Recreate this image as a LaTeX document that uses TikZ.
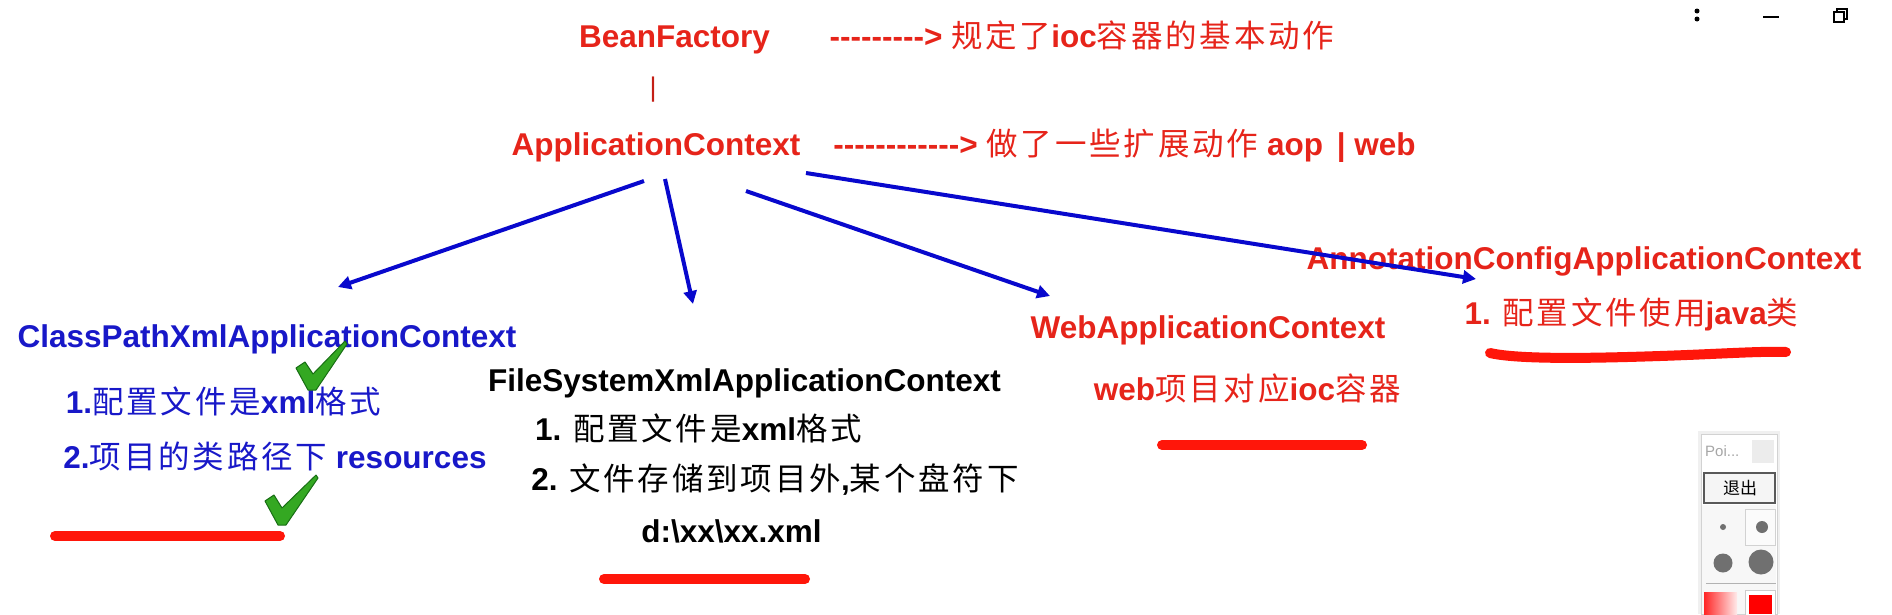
\documentclass[tikz,border=0pt]{standalone}
\usepackage{fontspec}
\setmainfont{Liberation Sans}
\newfontfamily\cjk{Noto Sans CJK SC}[LetterSpace=9]
\newfontfamily\cjkplain{Noto Sans CJK SC}
\usetikzlibrary{arrows.meta}
\definecolor{tred}{RGB}{230,36,26}
\definecolor{tblue}{RGB}{24,24,200}
\definecolor{ablue}{RGB}{8,8,205}
\definecolor{ulred}{RGB}{255,22,10}
\definecolor{chkg}{RGB}{52,168,34}
\definecolor{chkd}{RGB}{24,110,20}
\definecolor{dotg}{RGB}{112,112,112}
\newcommand\zh[1]{{\cjk\mdseries #1}}
\newcommand\hy{\mbox{-}}
\newcommand\dashesN[1]{\foreach \i in {1,...,#1}{\hy}}
\begin{document}
\begin{tikzpicture}[x=1pt,y=-1pt,
  lbl/.style={font=\fontsize{31.5}{36}\selectfont\bfseries, inner sep=0pt, anchor=base},
  redt/.style={lbl, text=tred},
  bluet/.style={lbl, text=tblue},
  blackt/.style={lbl, text=black},
  arr/.style={draw=ablue, line width=4pt, -{Triangle[length=13pt,width=13pt]}},
  uline/.style={draw=ulred, line width=10pt, line cap=round},
  checkm/.style={fill=chkg, draw=chkd, line width=1pt, line join=round},
  dotc/.style={fill=dotg, draw=none}]
\useasboundingbox (0,0) rectangle (1892,614);

% top
\node[redt] (bf) at (674.5,47) {BeanFactory};
\node[redt] (bfnote) at (1082,47) {\dashesN{9}> \zh{规定了}ioc\zh{容器的基本动作}};
\node[lbl, font=\fontsize{27}{29}\selectfont, text=tred!85!black] (bar) at (653,96) {|};
\node[redt] (ac) at (656,155) {ApplicationContext};
\node[redt] (acnote) at (1124.5,155) {\dashesN{12}> \zh{做了一些扩展动作} aop\hspace{5pt} | web};

% ClassPath
\node[bluet] (cp) at (267,347) {ClassPathXmlApplicationContext};
\node[bluet] (cp1) at (223.5,413) {1.\zh{配置文件是}xml\zh{格式}};
\node[bluet] (cp2) at (275,468) {2.\zh{项目的类路径下} resources};

% FileSystem
\node[blackt] (fs) at (744.5,391) {FileSystemXmlApplicationContext};
\node[blackt] (fs1) at (698.5,440) {1. \zh{配置文件是}xml\zh{格式}};
\node[blackt] (fs2) at (775,490) {2. \zh{文件存储到项目外},\zh{某个盘符下}};
\node[blackt] (fs3) at (731.5,542) {d:\textbackslash xx\textbackslash xx.xml};

% Web
\node[redt] (web) at (1208,338) {WebApplicationContext};
\node[redt] (web1) at (1247.5,400) {web\zh{项目对应}ioc\zh{容器}};

% Annotation
\node[redt] (ann) at (1584,269) {AnnotationConfigApplicationContext};
\node[redt] (ann1) at (1631.5,324) {1. \zh{配置文件使用}java\zh{类}};

% arrows
\coordinate (a1s) at (644,181); \coordinate (a1e) at (338,287);
\coordinate (a2s) at (665,179); \coordinate (a2e) at (693,304);
\coordinate (a3s) at (746,191); \coordinate (a3e) at (1050,296);
\coordinate (a4s) at (806,173); \coordinate (a4e) at (1476,279);
\draw[arr] (a1s) -- (a1e);
\draw[arr] (a2s) -- (a2e);
\draw[arr] (a3s) -- (a3e);
\draw[arr] (a4s) -- (a4e);

% underlines
\coordinate (u1a) at (55,536); \coordinate (u1b) at (280,536);
\coordinate (u2a) at (604,579); \coordinate (u2b) at (805,579);
\coordinate (u3a) at (1162,445); \coordinate (u3b) at (1362,445);
\draw[uline] (u1a) -- (u1b);
\draw[uline] (u2a) -- (u2b);
\draw[uline] (u3a) -- (u3b);
\draw[uline] (1490,353) .. controls (1520,360) and (1600,358) .. (1660,356) .. controls (1720,354) and (1760,351) .. (1786,352);

% checkmarks
\begin{scope}[shift={(296,341)}]
  \draw[checkm] (0,27) -- (9,21) -- (17,33) -- (49,0) -- (51,3) -- (20,49) -- (12,49) -- cycle;
\end{scope}
\begin{scope}[shift={(265,475)}]
  \draw[checkm] (0,26) -- (9,20) -- (17,33) -- (51,0) -- (53,3) -- (21,50) -- (13,50) -- cycle;
\end{scope}

% window controls
\fill (1697,11) circle (2.5pt);
\fill (1697,19) circle (2.5pt);
\draw[line width=1.3pt] (1763,17) -- (1779,17);
\draw[line width=1.3pt] (1834,12) rectangle (1844,22);
\draw[line width=1.3pt] (1837,12) -- (1837,9) -- (1847,9) -- (1847,19) -- (1844,19);

% pointer toolbar
\fill[gray!12] (1698,431) rectangle (1780,614);
\fill[white, draw=gray!35] (1701,434) rectangle (1777,614);
\node[anchor=west, inner sep=0pt, text=gray!70, font=\fontsize{15}{16}\selectfont] (poi) at (1705,451) {Poi...};
\fill[gray!15] (1752,440) rectangle (1774,463);
\fill[gray!6] (1702,505) rectangle (1776,614);
\draw[fill=gray!8, draw=gray!70!black, line width=1.5pt] (1704,473) rectangle (1775,503);
\node[inner sep=0pt, font=\cjkplain\fontsize{17}{18}\selectfont] (quit) at (1740,488) {退出};
\draw[fill=gray!3, draw=gray!35] (1745,509) rectangle (1775,545);
\fill[dotc] (1723,527) circle (3pt);
\fill[dotc] (1762,527) circle (6pt);
\fill[dotc] (1723,563) circle (9.5pt);
\fill[dotc] (1761,562) circle (12.5pt);
\draw[gray!60, line width=1pt] (1706,583) -- (1776,583);
\shade[left color=red!85, right color=red!8] (1704,592) rectangle (1737,614);
\draw[fill=white, draw=gray!40] (1745,590) rectangle (1775,616);
\fill[red] (1749,595) rectangle (1772,614);
\end{tikzpicture}
\end{document}
